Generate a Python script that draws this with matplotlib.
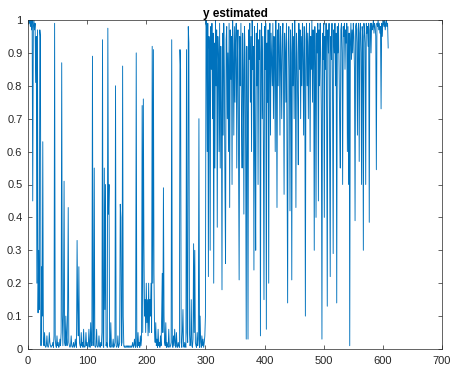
import numpy as np
import matplotlib.pyplot as plt

plt.rcParams['font.family'] = ['Liberation Sans', 'DejaVu Sans']

# =========================================================
# Data (one per sample)
# =========================================================

y_low = [
    1.0, 0.99, 1.0, 0.98, 1.0, 0.97, 1.0, 0.45, 0.98, 1.0,
    0.97, 0.99, 0.81, 0.95, 0.2, 0.97, 0.11, 0.3, 0.12, 0.97,
    0.95, 0.01, 0.25, 0.1, 0.63, 0.02, 0.01, 0.05, 0.01, 0.005,
    0.01, 0.04, 0.01, 0.005, 0.01, 0.05, 0.02, 0.01, 0.005, 0.01,
    0.01, 0.02, 0.005, 0.04, 0.99, 0.03, 0.01, 0.005, 0.04, 0.01,
    0.02, 0.005, 0.01, 0.03, 0.01, 0.05, 0.87, 0.1, 0.01, 0.12,
    0.51, 0.02, 0.01, 0.1, 0.04, 0.01, 0.12, 0.43, 0.02, 0.01,
    0.005, 0.01, 0.04, 0.01, 0.005, 0.01, 0.02, 0.005, 0.01, 0.03,
    0.01, 0.005, 0.33, 0.12, 0.04, 0.25, 0.02, 0.01, 0.005, 0.05,
    0.01, 0.02, 0.005, 0.06, 0.01, 0.005, 0.01, 0.05, 0.01, 0.02,
    0.005, 0.01, 0.06, 0.01, 0.005, 0.08, 0.01, 0.02, 0.89, 0.01,
    0.03, 0.55, 0.01, 0.005, 0.01, 0.06, 0.01, 0.005, 0.01, 0.04,
    0.01, 0.005, 0.02, 0.01, 0.05, 0.94, 0.01, 0.005, 0.55, 0.12,
    0.5, 0.01, 0.02, 0.005, 0.975, 0.41, 0.5, 0.01, 0.005, 0.08,
    0.01, 0.005, 0.01, 0.03, 0.005, 0.01, 0.02, 0.8, 0.01, 0.005,
    0.01, 0.04, 0.005, 0.01, 0.02, 0.44, 0.4, 0.01, 0.02, 0.86,
    0.1, 0.01, 0.005, 0.01, 0.005, 0.005, 0.01, 0.005, 0.01, 0.005,
    0.01, 0.005, 0.005, 0.01, 0.005, 0.01, 0.02, 0.005, 0.01, 0.03,
    0.01, 0.005, 0.9, 0.01, 0.005, 0.05, 0.01, 0.02, 0.005, 0.04,
    0.01, 0.03, 0.74, 0.05, 0.76, 0.32, 0.1, 0.15, 0.05, 0.2,
    0.08, 0.15, 0.04, 0.2, 0.05, 0.15, 0.1, 0.2, 0.05, 0.92,
    0.2, 0.91, 0.23, 0.05, 0.02, 0.08, 0.01, 0.03, 0.005, 0.06,
    0.01, 0.02, 0.005, 0.04, 0.01, 0.1, 0.23, 0.05, 0.49, 0.1,
    0.02, 0.01, 0.08, 0.005, 0.02, 0.01, 0.005, 0.06, 0.01, 0.005,
    0.01, 0.02, 0.94, 0.01, 0.005, 0.04, 0.01, 0.06, 0.02, 0.005,
    0.05, 0.01, 0.005, 0.02, 0.01, 0.005, 0.91, 0.85, 0.02, 0.005,
    0.05, 0.12, 0.01, 0.005, 0.02, 0.01, 0.005, 0.91, 0.05, 0.02,
    0.98, 0.93, 0.05, 0.01, 0.02, 0.15, 0.01, 0.005, 0.03, 0.32,
    0.05, 0.3, 0.02, 0.01, 0.005, 0.05, 0.01, 0.03, 0.7, 0.005,
    0.1, 0.02, 0.005, 0.04, 0.01, 0.03, 0.005, 0.02, 0.04, 0.1,
]

y_high = [
    1.0, 0.97, 0.6, 0.99, 0.22, 0.95, 0.9, 0.3, 0.98, 0.85,
    0.99, 0.7, 0.96, 0.2, 0.93, 0.55, 1.0, 0.8, 0.97, 0.37,
    0.95, 0.88, 0.6, 0.99, 0.55, 0.92, 0.75, 0.18, 0.96, 0.65,
    0.99, 0.85, 0.5, 0.26, 0.94, 0.98, 0.7, 0.9, 0.6, 0.99,
    0.43, 0.97, 0.82, 0.95, 0.5, 1.0, 0.9, 0.65, 0.98, 0.75,
    0.93, 0.99, 0.55, 0.88, 0.97, 0.6, 0.21, 0.95, 0.8, 0.99,
    0.7, 0.55, 0.96, 0.85, 0.41, 0.98, 0.9, 0.6, 0.03, 0.92,
    0.7, 0.03, 0.97, 0.88, 0.99, 0.75, 0.95, 0.6, 1.0, 0.85,
    0.92, 0.24, 0.98, 0.6, 0.3, 0.96, 0.8, 0.99, 0.5, 0.94,
    0.88, 0.97, 0.04, 0.9, 0.99, 0.7, 0.95, 0.6, 0.15, 0.98,
    0.85, 0.99, 0.06, 0.93, 0.75, 0.97, 0.2, 0.9, 0.99, 0.65,
    0.96, 0.88, 0.8, 0.99, 0.7, 0.95, 0.9, 0.6, 1.0, 0.85,
    0.43, 0.97, 0.8, 0.99, 0.92, 0.65, 0.98, 0.88, 0.7, 0.95,
    0.99, 0.82, 0.47, 0.96, 0.9, 0.75, 0.99, 0.6, 0.14, 0.93,
    0.98, 0.85, 0.42, 0.97, 0.9, 0.21, 0.99, 0.8, 0.95, 0.7,
    1.0, 0.88, 0.43, 0.96, 0.9, 0.75, 0.56, 0.99, 0.85, 0.97,
    0.7, 0.95, 0.8, 0.99, 0.9, 0.65, 0.98, 0.85, 0.1, 0.94,
    0.99, 0.8, 0.96, 0.7, 0.92, 0.99, 0.6, 0.95, 0.85, 1.0,
    0.75, 0.97, 0.9, 0.3, 0.98, 0.85, 0.4, 0.96, 0.9, 0.99,
    0.45, 0.97, 0.8, 0.99, 0.9, 0.7, 0.03, 0.96, 0.88, 0.99,
    0.4, 0.95, 0.85, 0.99, 0.7, 0.13, 0.97, 0.9, 0.99, 0.6,
    0.22, 0.95, 0.88, 0.99, 0.75, 0.29, 0.97, 0.9, 0.99, 0.8,
    0.96, 0.14, 0.98, 0.9, 0.99, 0.85, 0.68, 0.55, 0.97, 0.99,
    0.9, 0.5, 0.98, 0.95, 0.99, 0.85, 0.97, 0.93, 0.99, 0.6,
    0.98, 0.5, 0.96, 0.01, 0.92, 0.99, 0.88, 0.97, 0.9, 0.99,
    0.95, 0.85, 0.39, 0.98, 0.99, 0.93, 0.65, 0.97, 0.99, 0.57,
    0.96, 0.99, 0.9, 0.5, 0.98, 0.95, 0.3, 0.99, 0.97, 0.93,
    0.5, 0.99, 0.96, 0.98, 0.92, 0.99, 0.385, 0.97, 0.99, 0.9,
    0.99, 0.97, 0.98, 1.0, 0.96, 0.99, 0.98, 0.95, 0.545, 0.99,
    0.98, 1.0, 0.97, 0.99, 0.96, 0.98, 0.73, 0.99, 0.95, 1.0,
    0.99, 0.98, 1.0, 0.97, 0.99, 1.0, 0.98, 0.99, 0.915,
]

y_est = y_low + y_high
sample = np.arange(1, len(y_est) + 1)

x_ticks = [0, 100, 200, 300, 400, 500, 600, 700]
y_ticks = [0, 0.1, 0.2, 0.3, 0.4, 0.5, 0.6, 0.7, 0.8, 0.9, 1]
y_tick_labels = ["0", "0.1", "0.2", "0.3", "0.4", "0.5", "0.6", "0.7", "0.8", "0.9", "1"]

# =========================================================
# Plot
# =========================================================

fig = plt.figure(figsize=(4.54, 3.69), dpi=100)
ax = fig.add_axes([28 / 454, 20 / 369, 414 / 454, 329 / 369])

ax.plot(sample, y_est, color="#0072BD", linewidth=0.65)

ax.set_xlim(0, 700)
ax.set_ylim(0, 1)
ax.set_xticks(x_ticks)
ax.set_yticks(y_ticks)
ax.set_yticklabels(y_tick_labels)

ax.tick_params(direction="in", top=True, right=True, length=3,
               width=0.5, labelsize=8, colors="#262626", pad=4)
ax.tick_params(axis="x", pad=5)
for spine in ax.spines.values():
    spine.set_linewidth(0.5)
    spine.set_color("#262626")

ax.set_title("y estimated", fontsize=8.5, fontweight="bold", pad=2)

fig.savefig("out.png", dpi=100)
